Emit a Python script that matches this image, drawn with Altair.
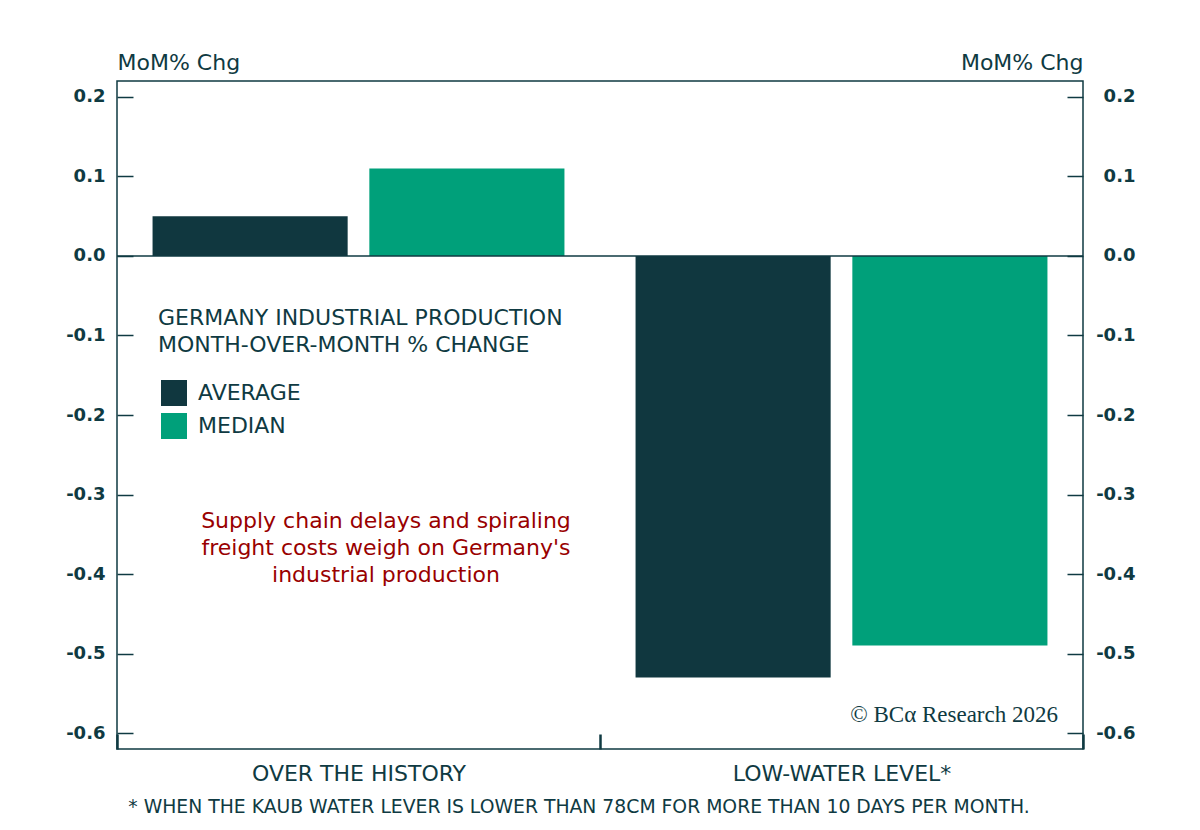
import altair as alt
import pandas as pd

categories = ["OVER THE HISTORY", "LOW-WATER LEVEL*"]
series = ["AVERAGE", "MEDIAN"]
average = [0.05, -0.53]
median = [0.11, -0.49]
y_ticks = [-0.6, -0.5, -0.4, -0.3, -0.2, -0.1, 0.0, 0.1, 0.2]

DARK = "#10373f"
GREEN = "#00a07a"
TEXT = "#0f3a42"
RED = "#990000"
FONT = "DejaVu Sans"

rows = []
for i, c in enumerate(categories):
    rows.append({"category": c, "series": "AVERAGE", "value": average[i]})
    rows.append({"category": c, "series": "MEDIAN", "value": median[i]})
df = pd.DataFrame(rows)

W, H = 966, 668
yscale = alt.Scale(domain=[-0.62, 0.22], nice=False, zero=False)
label_expr = "replace(format(datum.value, '.1f'), '\u2212', '-')"

left_axis = alt.Axis(
    orient="left", values=y_ticks, labelExpr=label_expr, offset=-16, tickSize=16, tickWidth=1.5,
    tickColor=TEXT, domain=False, grid=False, labelPadding=12, labelFontSize=18,
    labelFont=FONT, labelFontWeight="bold", labelColor=TEXT,
    title="MoM% Chg", titleAngle=0, titleAlign="left", titleBaseline="alphabetic",
    titleX=-16, titleY=-12, titleFontSize=22, titleFont=FONT, titleFontWeight="normal",
    titleColor=TEXT,
)
right_axis = alt.Axis(
    orient="right", values=y_ticks, labelExpr=label_expr, offset=-16, tickSize=16, tickWidth=1.5,
    tickColor=TEXT, domain=False, grid=False, labelPadding=52, labelAlign="right",
    labelFontSize=18, labelFont=FONT, labelFontWeight="bold", labelColor=TEXT,
    title="MoM% Chg", titleAngle=0, titleAlign="right", titleBaseline="alphabetic",
    titleX=16, titleY=-12, titleFontSize=22, titleFont=FONT, titleFontWeight="normal",
    titleColor=TEXT,
)

bars = alt.Chart(df).mark_bar().encode(
    x=alt.X(
        "category:N", sort=categories,
        scale=alt.Scale(paddingInner=0, paddingOuter=0),
        axis=alt.Axis(
            title=None, labelAngle=0, domain=False, tickBand="extent", tickSize=15,
            tickWidth=2.5, tickColor=TEXT, offset=-15, labelPadding=14, labelFontSize=22,
            labelFont=FONT, labelColor=TEXT, labelLimit=0,
        ),
    ),
    xOffset=alt.XOffset("series:N", sort=series,
                        scale=alt.Scale(paddingInner=0.1, paddingOuter=0.164)),
    y=alt.Y("value:Q", scale=yscale, axis=left_axis),
    color=alt.Color(
        "series:N",
        scale=alt.Scale(domain=series, range=[DARK, GREEN]),
        legend=alt.Legend(
            orient="none", legendX=41, legendY=227,
            title=["GERMANY INDUSTRIAL PRODUCTION", "MONTH-OVER-MONTH % CHANGE"],
            titleFontSize=22, titleFont=FONT, titleFontWeight="normal", titleColor=TEXT,
            titleLineHeight=27, titlePadding=23, titleLimit=0,
            symbolType="square", symbolSize=676, symbolStrokeWidth=0, symbolOpacity=1,
            symbolOffset=3,
            labelFontSize=22, labelFont=FONT, labelColor=TEXT,
            labelOffset=11, rowPadding=7,
        ),
    ),
)

zero = alt.Chart(pd.DataFrame({"zero": [0.0]})).mark_rule(color=TEXT, strokeWidth=1.5).encode(
    y=alt.Y("zero:Q", scale=yscale, axis=right_axis)
)

annotation = alt.Chart(pd.DataFrame({"t": [
    "Supply chain delays and spiraling\nfreight costs weigh on Germany's\nindustrial production"
]})).mark_text(
    lineBreak="\n", lineHeight=27, align="center", baseline="alphabetic",
    fontSize=22, font=FONT, color=RED,
).encode(text="t:N", x=alt.value(269), y=alt.value(447))

copyright_ = alt.Chart(pd.DataFrame({"t": ["© BCα Research 2026"]})).mark_text(
    align="right", baseline="alphabetic", fontSize=23, font="Liberation Serif", color=TEXT,
).encode(text="t:N", x=alt.value(941), y=alt.value(641))

footnote = alt.Chart(pd.DataFrame({"t": [
    "* WHEN THE KAUB WATER LEVER IS LOWER THAN 78CM FOR MORE THAN 10 DAYS PER MONTH."
]})).mark_text(
    align="center", baseline="middle", fontSize=18.8, font=FONT, color=TEXT,
).encode(text="t:N", x=alt.value(462), y=alt.value(726))

chart = alt.layer(bars, zero, annotation, copyright_, footnote).resolve_axis(
    y="independent"
).properties(
    width=W, height=H,
    autosize=alt.AutoSizeParams(type="none"),
    padding={"left": 109, "top": 73, "right": 109, "bottom": 73},
    background="white",
).configure_view(stroke=TEXT, strokeWidth=1.5)

chart.save("out.html", embed_options={"renderer": "svg", "actions": False})
